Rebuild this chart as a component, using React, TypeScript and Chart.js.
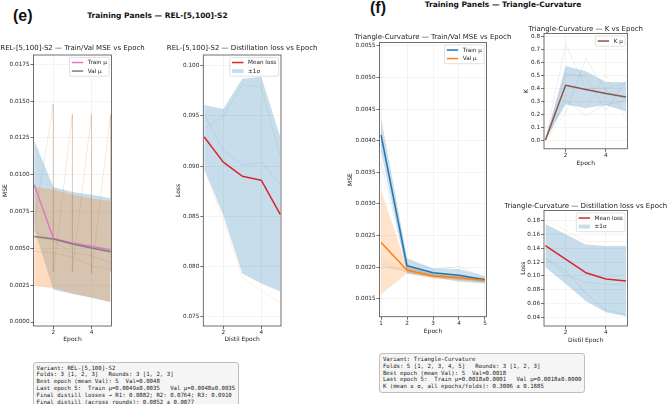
import React, { useEffect, useRef } from 'react';
import { Chart, registerables } from 'chart.js';

Chart.register(...registerables);

const FONT = 'DejaVu Sans';
const TITLE_SIZE = 7;
const AXIS_SIZE = 6;
const TICK_SIZE = 5.7;
const LEGEND_SIZE = 5.7;

// ---------- REL-[5,100]-S2 ----------
const epochs = [1, 2, 3, 4, 5];
const relTrainMean = [0.00932, 0.00568, 0.00536, 0.00514, 0.00489];
const relTrainStd = [0.00302, 0.00348, 0.00346, 0.0035, 0.00352];
const relValMean = [0.0058, 0.00564, 0.0053, 0.00502, 0.00477];
const relValStd = [0.00336, 0.00335, 0.00335, 0.00336, 0.00345];
const relSawX = [1, 2, 2, 3, 3, 4, 4, 5, 5];
const relSawY = [0.0068, 0.0148, 0.0034, 0.0141, 0.0034, 0.0141, 0.0033, 0.0141, 0.0034];
const relFoldA = [0.0048, 0.0047, 0.0044, 0.0038, 0.0036];
const relFoldB = [0.0062, 0.0055, 0.0047, 0.0045, 0.004];
const relMseTicks = [0, 0.0025, 0.005, 0.0075, 0.01, 0.0125, 0.015, 0.0175];

const relDistMean = [0.0929, 0.0904, 0.089, 0.0886, 0.0852];
const relDistStd = [0.0032, 0.0053, 0.0097, 0.0103, 0.0077];
const relRound1 = [0.0952, 0.0916, 0.0901, 0.0904, 0.0882];
const relRound2 = [0.0897, 0.0846, 0.0789, 0.0776, 0.0764];
const relRound3 = [0.0938, 0.095, 0.0981, 0.0979, 0.091];
const relDistTicks = [0.075, 0.08, 0.085, 0.09, 0.095, 0.1];

// ---------- Triangle-Curvature ----------
const triTrainMean = [0.00409, 0.00202, 0.00191, 0.00187, 0.0018];
const triTrainStd = [0.00024, 0.00012, 0.00007, 0.0001, 0.00006];
const triValMean = [0.00239, 0.00195, 0.00186, 0.00183, 0.00179];
const triValStd = [0.00082, 0.00005, 0.00004, 0.00004, 0.00004];
const triTrainFolds = [
  [0.00435, 0.0021, 0.00196, 0.00201, 0.00182],
  [0.00415, 0.00205, 0.0019, 0.00184, 0.00178],
  [0.004, 0.00198, 0.00188, 0.00183, 0.00177],
  [0.0041, 0.002, 0.00192, 0.00186, 0.0018],
  [0.00385, 0.00197, 0.00189, 0.00181, 0.00178],
];
const triValFolds = [
  [0.00365, 0.00198, 0.00188, 0.00184, 0.0018],
  [0.00215, 0.00196, 0.00187, 0.00183, 0.00178],
  [0.0021, 0.00193, 0.00185, 0.00182, 0.00179],
  [0.00205, 0.00192, 0.00184, 0.00181, 0.00177],
  [0.002, 0.00196, 0.00186, 0.00185, 0.00181],
];
const triMseTicks = [0.0015, 0.002, 0.0025, 0.003, 0.0035, 0.004, 0.0045, 0.005, 0.0055];

const kMean = [0, 0.423, 0.39, 0.359, 0.333];
const kStd = [0, 0.148, 0.142, 0.09, 0.113];
const kFolds = [
  [0, 0.74, 0.4, 0.4, 0.44],
  [0, 0.21, 0.63, 0.38, 0.31],
  [0, 0.51, 0.49, 0.23, 0.46],
  [0, 0.35, 0.24, 0.51, 0.15],
  [0, 0.31, 0.19, 0.275, 0.305],
];
const kTicks = [0, 0.1, 0.2, 0.3, 0.4, 0.5, 0.6, 0.7, 0.8];

const triDistMean = [0.1438, 0.1245, 0.1047, 0.0955, 0.0926];
const triDistStd = [0.0314, 0.036, 0.041, 0.048, 0.051];
const triRound1 = [0.125, 0.1085, 0.0748, 0.0506, 0.0434];
const triRound2 = [0.181, 0.1665, 0.1496, 0.1496, 0.1496];
const triRound3 = [0.1255, 0.1013, 0.0907, 0.0878, 0.0868];
const triDistTicks = [0.04, 0.06, 0.08, 0.1, 0.12, 0.14, 0.16, 0.18];

const relInfo = [
  'Variant: REL-[5,100]-S2',
  'Folds: 3 [1, 2, 3]   Rounds: 3 [1, 2, 3]',
  'Best epoch (mean Val): 5  Val=0.0048',
  'Last epoch 5:  Train μ=0.0049±0.0035   Val μ=0.0048±0.0035',
  'Final distill losses → R1: 0.0882; R2: 0.0764; R3: 0.0910',
  'Final distill (across rounds): 0.0852 ± 0.0077',
];
const triInfo = [
  'Variant: Triangle-Curvature',
  'Folds: 5 [1, 2, 3, 4, 5]   Rounds: 3 [1, 2, 3]',
  'Best epoch (mean Val): 5  Val=0.0018',
  'Last epoch 5:  Train μ=0.0018±0.0001   Val μ=0.0018±0.0000',
  'K (mean ± σ, all epochs/folds): 0.3006 ± 0.1885',
];

// tab10 palette
const C0 = '31,119,180';
const C1 = '255,127,14';
const C2 = '44,160,44';
const C3 = '214,39,40';
const C4 = '148,103,189';
const rgba = (c: string, a: number) => `rgba(${c},${a})`;
const FADED = 0.17;
const FOLD_TAN = 'rgba(175,120,80,0.28)';

type Rect = { left: number; top: number; width: number; height: number };
type Area = { left: number; top: number; right: number; bottom: number };
type Band = { x: number[]; mean: number[]; std: number[]; color: string; order: number };
type Series = { x: number[]; y: number[]; color: string; width: number; order: number };
type LegendItem = { label: string; color: string; kind: 'line' | 'patch' };
type PanelSpec = {
  box: Rect;
  plot: Area;
  title: string;
  titleY: number;
  xLabel: string;
  xLabelY: number;
  yLabel: string;
  yLabelX: number;
  xMin: number;
  xMax: number;
  yMin: number;
  yMax: number;
  xTicks: number[];
  yTicks: number[];
  yDecimals: number;
  bands: Band[];
  lines: Series[];
  legend: LegendItem[];
};

const faint = (ys: number[], c: string, order = 5): Series => ({
  x: epochs,
  y: ys,
  color: rgba(c, FADED),
  width: 0.7,
  order,
});

function drawLegend(ctx: CanvasRenderingContext2D, a: Area, items: LegendItem[]) {
  const fs = LEGEND_SIZE;
  const pad = 0.4 * fs;
  const hl = 2 * fs;
  const htp = 0.8 * fs;
  const ls = 0.5 * fs;
  const inset = 2.4;
  ctx.font = `${fs}px "${FONT}"`;
  const tw = Math.max(...items.map((it) => ctx.measureText(it.label).width));
  const w = pad * 2 + hl + htp + tw;
  const h = pad * 2 + items.length * fs + (items.length - 1) * ls;
  const x0 = a.right - inset - w;
  const y0 = a.top + inset;
  ctx.beginPath();
  if ((ctx as any).roundRect) (ctx as any).roundRect(x0, y0, w, h, 1.5);
  else ctx.rect(x0, y0, w, h);
  ctx.fillStyle = 'rgba(255,255,255,0.85)';
  ctx.fill();
  ctx.strokeStyle = '#cccccc';
  ctx.lineWidth = 0.6;
  ctx.stroke();
  items.forEach((it, i) => {
    const cy = y0 + pad + fs / 2 + i * (fs + ls);
    if (it.kind === 'line') {
      ctx.beginPath();
      ctx.moveTo(x0 + pad, cy);
      ctx.lineTo(x0 + pad + hl, cy);
      ctx.strokeStyle = it.color;
      ctx.lineWidth = 1.5;
      ctx.stroke();
    } else {
      ctx.fillStyle = it.color;
      ctx.fillRect(x0 + pad, cy - 0.35 * fs, hl, 0.7 * fs);
    }
    ctx.fillStyle = '#1a1a1a';
    ctx.textAlign = 'left';
    ctx.textBaseline = 'middle';
    ctx.fillText(it.label, x0 + pad + hl + htp, cy);
  });
}

function decorPlugin(s: PanelSpec) {
  return {
    id: 'panelDecor',
    afterDatasetsDraw(chart: any) {
      const { ctx, chartArea: a } = chart;
      ctx.save();
      ctx.strokeStyle = '#4d4d4d';
      ctx.lineWidth = 0.8;
      ctx.strokeRect(a.left, a.top, a.right - a.left, a.bottom - a.top);
      ctx.restore();
    },
    afterDraw(chart: any) {
      const { ctx, chartArea: a } = chart;
      ctx.save();
      ctx.font = `${TITLE_SIZE}px "${FONT}"`;
      ctx.fillStyle = '#1a1a1a';
      ctx.textAlign = 'center';
      ctx.textBaseline = 'middle';
      ctx.fillText(s.title, (a.left + a.right) / 2, s.titleY - s.box.top);
      drawLegend(ctx, a, s.legend);
      ctx.restore();
    },
  };
}

function buildConfig(s: PanelSpec): any {
  const { box, plot } = s;
  const padTop = plot.top - box.top;
  const padRight = box.left + box.width - plot.right;
  const yAxisW = plot.left - box.left;
  const xAxisH = box.top + box.height - plot.bottom;
  const lh = AXIS_SIZE * 1.2;
  const yTitlePad = s.yLabelX - box.left - lh / 2;
  const xTitlePad = box.top + box.height - s.xLabelY - lh / 2;

  const datasets: any[] = [];
  s.bands.forEach((b) => {
    datasets.push({
      data: b.x.map((x, i) => ({ x, y: b.mean[i] + b.std[i] })),
      fill: '+1',
      backgroundColor: b.color,
      borderColor: 'rgba(0,0,0,0)',
      borderWidth: 0,
      pointRadius: 0,
      order: b.order,
    });
    datasets.push({
      data: b.x.map((x, i) => ({ x, y: b.mean[i] - b.std[i] })),
      fill: false,
      borderColor: 'rgba(0,0,0,0)',
      borderWidth: 0,
      pointRadius: 0,
      order: b.order,
    });
  });
  s.lines.forEach((l) => {
    datasets.push({
      data: l.x.map((x, i) => ({ x, y: l.y[i] })),
      borderColor: l.color,
      borderWidth: l.width,
      borderJoinStyle: 'round',
      pointRadius: 0,
      fill: false,
      order: l.order,
    });
  });

  const gridCfg = {
    color: '#ececec',
    lineWidth: 0.6,
    tickLength: 3,
    tickColor: '#4d4d4d',
    tickWidth: 0.8,
  };
  const tickFont = { family: FONT, size: TICK_SIZE };
  const axisFont = { family: FONT, size: AXIS_SIZE };

  return {
    type: 'line',
    data: { datasets },
    options: {
      responsive: false,
      maintainAspectRatio: false,
      animation: false,
      events: [],
      layout: { padding: { top: padTop, right: padRight, left: 0, bottom: 0 } },
      plugins: { legend: { display: false }, tooltip: { enabled: false }, title: { display: false } },
      scales: {
        x: {
          type: 'linear',
          min: s.xMin,
          max: s.xMax,
          afterBuildTicks: (sc: any) => {
            sc.ticks = s.xTicks.map((v) => ({ value: v }));
          },
          afterFit: (sc: any) => {
            sc.height = xAxisH;
          },
          ticks: {
            font: tickFont,
            color: '#262626',
            padding: 0.5,
            maxRotation: 0,
            autoSkip: false,
            callback: (v: number) => String(v),
          },
          grid: gridCfg,
          border: { display: false },
          title: {
            display: true,
            text: s.xLabel,
            font: axisFont,
            color: '#1a1a1a',
            padding: { top: 0, bottom: xTitlePad },
          },
        },
        y: {
          type: 'linear',
          min: s.yMin,
          max: s.yMax,
          afterBuildTicks: (sc: any) => {
            sc.ticks = s.yTicks.map((v) => ({ value: v }));
          },
          afterFit: (sc: any) => {
            sc.width = yAxisW;
          },
          ticks: {
            font: tickFont,
            color: '#262626',
            padding: 1,
            autoSkip: false,
            callback: (v: number) => Number(v).toFixed(s.yDecimals),
          },
          grid: gridCfg,
          border: { display: false },
          title: {
            display: true,
            text: s.yLabel,
            font: axisFont,
            color: '#1a1a1a',
            padding: { top: yTitlePad, bottom: 0 },
          },
        },
      },
    },
    plugins: [decorPlugin(s)],
  };
}

const relMsePanel: PanelSpec = {
  box: { left: -3, top: 30, width: 151, height: 316 },
  plot: { left: 33.5, top: 55, right: 111.5, bottom: 326 },
  title: 'REL-[5,100]-S2 — Train/Val MSE vs Epoch',
  titleY: 48.3,
  xLabel: 'Epoch',
  xLabelY: 339.3,
  yLabel: 'MSE',
  yLabelX: 5,
  xMin: 0.96,
  xMax: 5.05,
  yMin: -0.00027,
  yMax: 0.01813,
  xTicks: [2, 4],
  yTicks: relMseTicks,
  yDecimals: 4,
  bands: [
    { x: epochs, mean: relTrainMean, std: relTrainStd, color: rgba(C0, 0.25), order: 9 },
    { x: epochs, mean: relValMean, std: relValStd, color: rgba(C1, 0.27), order: 8 },
  ],
  lines: [
    { x: relSawX, y: relSawY, color: FOLD_TAN, width: 0.6, order: 5 },
    { x: epochs, y: relFoldA, color: FOLD_TAN, width: 0.6, order: 5 },
    { x: epochs, y: relFoldB, color: FOLD_TAN, width: 0.6, order: 5 },
    { x: epochs, y: relTrainMean, color: '#e377c2', width: 1.5, order: 2 },
    { x: epochs, y: relValMean, color: '#7f7f7f', width: 1.5, order: 1 },
  ],
  legend: [
    { label: 'Train μ', color: '#e377c2', kind: 'line' },
    { label: 'Val μ', color: '#7f7f7f', kind: 'line' },
  ],
};

const relDistPanel: PanelSpec = {
  box: { left: 160, top: 30, width: 164, height: 316 },
  plot: { left: 203.3, top: 55, right: 281, bottom: 326 },
  title: 'REL-[5,100]-S2 — Distillation loss vs Epoch',
  titleY: 48.3,
  xLabel: 'Distil Epoch',
  xLabelY: 339.3,
  yLabel: 'Loss',
  yLabelX: 178.3,
  xMin: 0.95,
  xMax: 5.04,
  yMin: 0.07407,
  yMax: 0.10107,
  xTicks: [2, 4],
  yTicks: relDistTicks,
  yDecimals: 3,
  bands: [{ x: epochs, mean: relDistMean, std: relDistStd, color: rgba(C0, 0.25), order: 9 }],
  lines: [
    faint(relRound1, C0),
    faint(relRound2, C1),
    faint(relRound3, C2),
    { x: epochs, y: relDistMean, color: '#d62728', width: 1.5, order: 1 },
  ],
  legend: [
    { label: 'Mean loss', color: '#d62728', kind: 'line' },
    { label: '±1σ', color: rgba(C0, 0.25), kind: 'patch' },
  ],
};

const triMsePanel: PanelSpec = {
  box: { left: 340, top: 20, width: 175, height: 326 },
  plot: { left: 379.5, top: 42.5, right: 486.5, bottom: 316.7 },
  title: 'Triangle-Curvature — Train/Val MSE vs Epoch',
  titleY: 37.3,
  xLabel: 'Epoch',
  xLabelY: 331,
  yLabel: 'MSE',
  yLabelX: 350,
  xMin: 0.94,
  xMax: 5.06,
  yMin: 0.001215,
  yMax: 0.005555,
  xTicks: epochs,
  yTicks: triMseTicks,
  yDecimals: 4,
  bands: [
    { x: epochs, mean: triTrainMean, std: triTrainStd, color: rgba(C0, 0.22), order: 9 },
    { x: epochs, mean: triValMean, std: triValStd, color: rgba(C1, 0.22), order: 8 },
  ],
  lines: [
    ...triTrainFolds.map((f, i) => faint(f, [C0, C1, C2, C3, C4][i])),
    ...triValFolds.map((f, i) => faint(f, [C0, C1, C2, C3, C4][i])),
    { x: epochs, y: triTrainMean, color: '#1f77b4', width: 1.5, order: 2 },
    { x: epochs, y: triValMean, color: '#ff7f0e', width: 1.5, order: 1 },
  ],
  legend: [
    { label: 'Train μ', color: '#1f77b4', kind: 'line' },
    { label: 'Val μ', color: '#ff7f0e', kind: 'line' },
  ],
};

const kPanel: PanelSpec = {
  box: { left: 498, top: 18, width: 170, height: 152 },
  plot: { left: 544, top: 33.5, right: 627.5, bottom: 148.8 },
  title: 'Triangle-Curvature — K vs Epoch',
  titleY: 29,
  xLabel: 'Epoch',
  xLabelY: 163.3,
  yLabel: 'K',
  yLabelX: 526.7,
  xMin: 0.93,
  xMax: 5.07,
  yMin: -0.0677,
  yMax: 0.823,
  xTicks: [2, 4],
  yTicks: kTicks,
  yDecimals: 1,
  bands: [{ x: epochs, mean: kMean, std: kStd, color: rgba(C0, 0.25), order: 9 }],
  lines: [
    ...kFolds.map((f, i) => faint(f, [C4, C2, C3, C1, C0][i])),
    { x: epochs, y: kMean, color: '#8c564b', width: 1.5, order: 1 },
  ],
  legend: [{ label: 'K μ', color: '#8c564b', kind: 'line' }],
};

const triDistPanel: PanelSpec = {
  box: { left: 498, top: 195, width: 170, height: 151 },
  plot: { left: 544, top: 210.5, right: 627.5, bottom: 326 },
  title: 'Triangle-Curvature — Distillation loss vs Epoch',
  titleY: 205.7,
  xLabel: 'Distil Epoch',
  xLabelY: 340,
  yLabel: 'Loss',
  yLabelX: 523.3,
  xMin: 0.93,
  xMax: 5.07,
  yMin: 0.0274,
  yMax: 0.1948,
  xTicks: [2, 4],
  yTicks: triDistTicks,
  yDecimals: 2,
  bands: [{ x: epochs, mean: triDistMean, std: triDistStd, color: rgba(C0, 0.25), order: 9 }],
  lines: [
    faint(triRound1, C0),
    faint(triRound2, C1),
    faint(triRound3, C2),
    { x: epochs, y: triDistMean, color: '#d62728', width: 1.5, order: 1 },
  ],
  legend: [
    { label: 'Mean loss', color: '#d62728', kind: 'line' },
    { label: '±1σ', color: rgba(C0, 0.25), kind: 'patch' },
  ],
};

function Panel({ spec }: { spec: PanelSpec }) {
  const ref = useRef<HTMLCanvasElement>(null);
  useEffect(() => {
    if (!ref.current) return;
    const chart = new Chart(ref.current, buildConfig(spec));
    return () => chart.destroy();
  }, [spec]);
  const { box } = spec;
  return (
    <canvas
      ref={ref}
      width={box.width}
      height={box.height}
      style={{ position: 'absolute', left: box.left, top: box.top, width: box.width, height: box.height }}
    />
  );
}

function Label({ x, y, text, size, family = FONT, weight = 'bold' }: any) {
  return (
    <div
      style={{
        position: 'absolute',
        left: x,
        top: y,
        transform: 'translate(-50%, -50%)',
        fontFamily: `"${family}"`,
        fontSize: size,
        fontWeight: weight,
        lineHeight: 1,
        whiteSpace: 'nowrap',
        color: '#111',
      }}
    >
      {text}
    </div>
  );
}

function InfoBox({ left, top, lines }: { left: number; top: number; lines: string[] }) {
  return (
    <div
      style={{
        position: 'absolute',
        left,
        top,
        padding: '1.6px 2.6px',
        background: '#f5f5f5',
        border: '0.8px solid #bfbfbf',
        borderRadius: 3,
        fontFamily: '"DejaVu Sans Mono", monospace',
        fontSize: 5.7,
        lineHeight: '6.84px',
        whiteSpace: 'pre',
        color: '#1a1a1a',
      }}
    >
      {lines.join('\n')}
    </div>
  );
}

export default function App() {
  return (
    <div
      style={{
        position: 'fixed',
        left: 0,
        top: 0,
        width: 668,
        height: 404,
        overflow: 'hidden',
        background: '#ffffff',
      }}
    >
      <Label x={22.7} y={15.8} text="(e)" size={16} family="Liberation Sans" />
      <Label x={157.5} y={15.7} text="Training Panels — REL-[5,100]-S2" size={7.5} />
      <Label x={378} y={8} text="(f)" size={16} family="Liberation Sans" />
      <Label x={503} y={5} text="Training Panels — Triangle-Curvature" size={7.5} />
      <Panel spec={relMsePanel} />
      <Panel spec={relDistPanel} />
      <Panel spec={triMsePanel} />
      <Panel spec={kPanel} />
      <Panel spec={triDistPanel} />
      <InfoBox left={33} top={362} lines={relInfo} />
      <InfoBox left={379.3} top={353.3} lines={triInfo} />
    </div>
  );
}
